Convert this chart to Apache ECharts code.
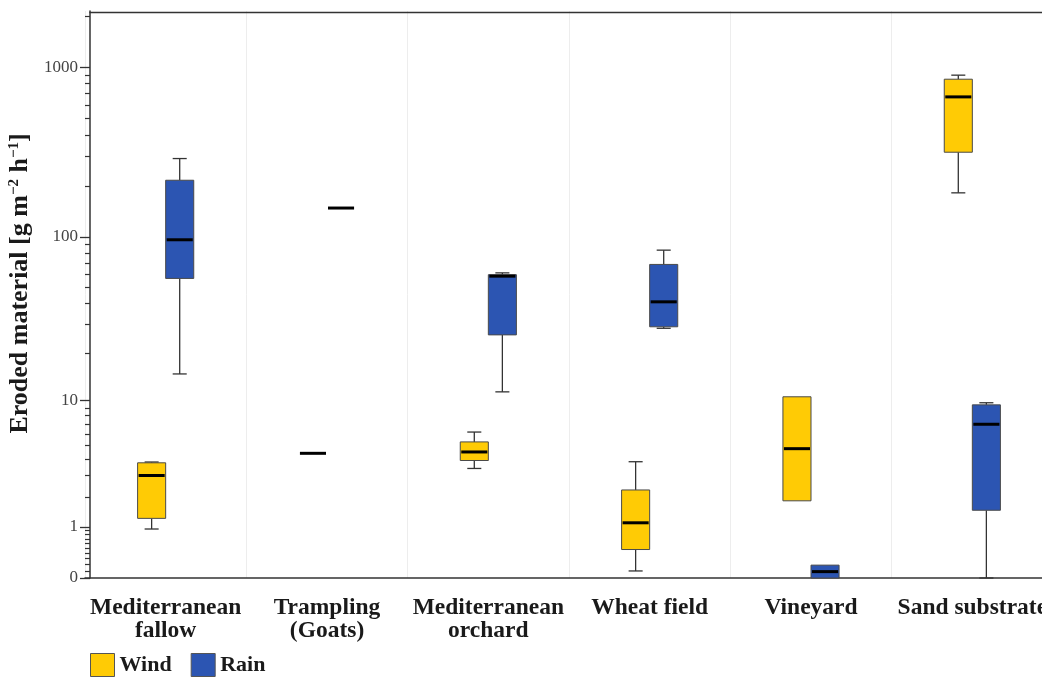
<!DOCTYPE html>
<html><head><meta charset="utf-8">
<script src="https://cdn.jsdelivr.net/npm/echarts@6/dist/echarts.min.js"></script>
<style>html,body{margin:0;padding:0;background:#fff}#c{width:1042px;height:679px}</style>
</head><body><div id="c"></div>
<script>
// ---- data (raw values, g m-2 h-1) ----
const categories = ['Mediterranean\nfallow', 'Trampling\n(Goats)', 'Mediterranean\norchard', 'Wheat field', 'Vineyard', 'Sand substrate'];
const windMin    = [0.94, 4.4, 3.4, 0.10, 1.84, 182];
const windQ1     = [1.24, 4.4, 3.9, 0.47, 1.84, 316];
const windMedian = [3.0,  4.4, 4.5, 1.11, 4.75, 669];
const windQ3     = [3.75, 4.4, 5.3, 2.29, 10.6, 850];
const windMax    = [3.8,  4.4, 6.2, 3.82, 10.6, 898];
const rainMin    = [14.8, 148, 11.4, 28.3, 0,    0];
const rainQ1     = [56.5, 148, 25.8, 28.9, 0,    1.5];
const rainMedian = [96,   148, 58.3, 40.9, 0.09, 7.0];
const rainQ3     = [216,  148, 59.5, 68.5, 0.19, 9.4];
const rainMax    = [290,  148, 61,   83.3, 0.19, 9.7];
const tickLabels = [0, 1, 10, 100, 1000];
const axisMaxRaw = 2140;

// ---- style ----
const SERIF = '"Liberation Serif", "Times New Roman", serif';
const WIND = '#FFCB05', RAIN = '#2C55B2';
const BORDER = '#4a4a4a', WHISKER = '#333333';
const BOX_FRAC = 0.174;

const t = v => Math.log10(v + 1);
const majorTicks = tickLabels.map(t);
const minorTicks = [];
[[0.1, 0.9, 0.1], [2, 9, 1], [20, 90, 10], [200, 900, 100], [2000, 2000, 1]].forEach(([a, b, s]) => {
  for (let v = a; v <= b + 1e-9; v += s) minorTicks.push(t(Math.round(v * 10) / 10));
});

function build(mn, q1, md, q3, mx) {
  return categories.map((c, i) => [i, t(mn[i]), t(q1[i]), t(md[i]), t(q3[i]), t(mx[i])]);
}

function renderBox(side, color) {
  return function (params, api) {
    const c = api.value(0);
    const mn = api.value(1), q1 = api.value(2), md = api.value(3), q3 = api.value(4), mx = api.value(5);
    const band = api.size([1, 0])[0];
    const bw = band * BOX_FRAC;
    const cx = api.coord([c, 0])[0] + side * bw / 2;
    const Y = v => api.coord([c, v])[1];
    const ws = { stroke: WHISKER, lineWidth: 1.3 };
    const ch = [];
    if (mx > q3 + 1e-9) {
      ch.push({ type: 'line', shape: { x1: cx, y1: Y(q3), x2: cx, y2: Y(mx) }, style: ws });
      ch.push({ type: 'line', shape: { x1: cx - bw / 4, y1: Y(mx), x2: cx + bw / 4, y2: Y(mx) }, style: ws });
    }
    if (mn < q1 - 1e-9) {
      ch.push({ type: 'line', shape: { x1: cx, y1: Y(q1), x2: cx, y2: Y(mn) }, style: ws });
      ch.push({ type: 'line', shape: { x1: cx - bw / 4, y1: Y(mn), x2: cx + bw / 4, y2: Y(mn) }, style: ws });
    }
    if (q3 > q1 + 1e-9) {
      ch.push({ type: 'rect', shape: { x: cx - bw / 2, y: Y(q3), width: bw, height: Y(q1) - Y(q3) },
        style: { fill: color, stroke: BORDER, lineWidth: 1 } });
    }
    ch.push({ type: 'line', shape: { x1: cx - bw / 2 + 1, y1: Y(md), x2: cx + bw / 2 - 1, y2: Y(md) },
      style: { stroke: '#000', lineWidth: 3 } });
    return { type: 'group', children: ch };
  };
}

const chart = echarts.init(document.getElementById('c'), null, { renderer: 'canvas' });
chart.setOption({
  animation: false,
  backgroundColor: '#fff',
  grid: [
    { left: 85, top: 11, width: 968, bottom: 101, outerBoundsMode: 'none', containLabel: false },
    { left: 90, top: 11, width: 963, height: 1, outerBoundsMode: 'none', containLabel: false }
  ],
  legend: {
    left: 90, top: 653, padding: 0, itemWidth: 24, itemHeight: 23, itemGap: 19, icon: 'rect',
    textStyle: { fontFamily: SERIF, fontWeight: 'bold', fontSize: 22, color: '#1a1a1a' },
    data: [
      { name: 'Wind', itemStyle: { color: WIND, borderColor: '#555', borderWidth: 1 } },
      { name: 'Rain', itemStyle: { color: RAIN, borderColor: '#555', borderWidth: 1 } }
    ]
  },
  xAxis: [
    {
      type: 'category', data: categories, gridIndex: 0,
      axisLine: { lineStyle: { color: '#333', width: 1.5 } },
      axisTick: { alignWithLabel: true, length: 9, lineStyle: { color: '#333', width: 1.5 } },
      axisLabel: { interval: 0, margin: 18, fontFamily: SERIF, fontWeight: 'bold', fontSize: 23.5, lineHeight: 23, color: '#1a1a1a' },
      splitLine: { show: true, interval: 0, lineStyle: { color: '#ededed', width: 1 } }
    },
    {
      type: 'value', gridIndex: 1, position: 'top',
      axisLine: { show: true, lineStyle: { color: '#333', width: 1.3 } },
      axisTick: { show: false }, axisLabel: { show: false }, splitLine: { show: false }
    }
  ],
  yAxis: [
    {
      type: 'value', gridIndex: 0, position: 'left', min: 0, max: t(axisMaxRaw), offset: -5,
      axisLine: { show: true, lineStyle: { color: '#333', width: 1.5 } },
      axisTick: { show: true, length: 10, customValues: majorTicks, lineStyle: { color: '#333', width: 1.3 } },
      axisLabel: { customValues: majorTicks, margin: 12, fontFamily: SERIF, fontSize: 17, color: '#444',
        formatter: v => String(Math.round(Math.pow(10, v) - 1)) },
      splitLine: { show: false },
      name: 'Eroded material [g m{sup|−2} h{sup|−1}]',
      nameLocation: 'middle', nameGap: 57,
      nameTextStyle: { fontFamily: SERIF, fontWeight: 'bold', fontSize: 26, color: '#1a1a1a', padding: [0, 0, 0, 22],
        rich: { sup: { fontFamily: SERIF, fontWeight: 'bold', fontSize: 15, verticalAlign: 'top', color: '#1a1a1a' } } }
    },
    {
      type: 'value', gridIndex: 0, position: 'left', min: 0, max: t(axisMaxRaw), offset: -5,
      axisLine: { show: false },
      axisTick: { show: true, length: 5, customValues: minorTicks, lineStyle: { color: '#333', width: 1.2 } },
      axisLabel: { show: false }, splitLine: { show: false }
    },
    { type: 'value', gridIndex: 1, show: false }
  ],
  series: [
    {
      name: 'Wind', type: 'custom', xAxisIndex: 0, yAxisIndex: 0,
      itemStyle: { color: WIND },
      encode: { x: 0, y: [1, 2, 3, 4, 5] },
      renderItem: renderBox(-1, WIND),
      data: build(windMin, windQ1, windMedian, windQ3, windMax)
    },
    {
      name: 'Rain', type: 'custom', xAxisIndex: 0, yAxisIndex: 0,
      itemStyle: { color: RAIN },
      encode: { x: 0, y: [1, 2, 3, 4, 5] },
      renderItem: renderBox(1, RAIN),
      data: build(rainMin, rainQ1, rainMedian, rainQ3, rainMax)
    }
  ]
});
</script></body></html>
